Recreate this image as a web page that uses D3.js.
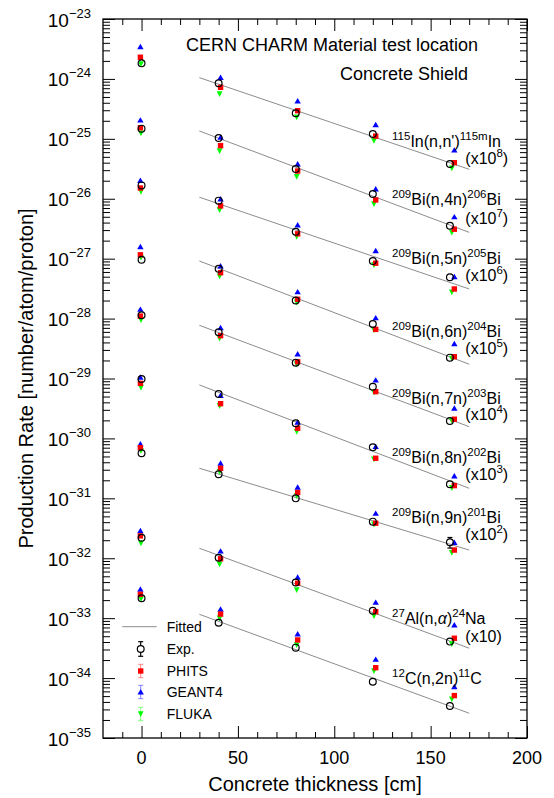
<!DOCTYPE html>
<html>
<head>
<meta charset="utf-8">
<script src="https://cdn.jsdelivr.net/npm/d3@7"></script>
<style>
body { margin: 0; background: #fff; }
text { font-family: "Liberation Sans", Arial, Helvetica, sans-serif; fill: #000; }
</style>
</head>
<body>
<svg id="chart" width="554" height="798"></svg>
<script>
// concrete thickness of each measurement [cm]
var expX = [0, 40, 80, 120, 160];
var phitsX = [-0.6, 41, 81, 121.5, 162.3];
var geantX = [-0.6, 41, 81, 121.5, 162.3];
var flukaX = [-0.3, 40.5, 80.5, 120.6, 161];
var fitX = [30, 170];

// reactions, top to bottom (values already multiplied by the scale factor)
var reactions = ['In115', 'Bi4n', 'Bi5n', 'Bi6n', 'Bi7n', 'Bi8n', 'Bi9n', 'Al27', 'C12'];
var scalePower = ['8', '7', '6', '5', '4', '3', '2', '', null];

var expRate = [
	[1.82e-24, 8.45e-25, 2.67e-25, 1.2e-25, 3.8e-26],
	[1.48e-25, 1.03e-25, 3.14e-26, 1.2e-26, 3.55e-27],
	[1.67e-26, 9.3e-27, 2.8e-27, 9.1e-28, 4.9e-28],
	[9.6e-28, 6.8e-28, 2.0e-28, 8.1e-29, 2.23e-29],
	[1.135e-28, 5.9e-29, 1.84e-29, 7.3e-30, 1.95e-30],
	[9.8e-30, 5.5e-30, 1.79e-30, 7.1e-31, 1.72e-31],
	[5.65e-31, 2.52e-31, 1.0e-31, 4.08e-32, 1.85e-32],
	[2.2e-32, 1.02e-32, 3.92e-33, 1.33e-33, 4.06e-34],
	[2.15e-33, 8.4e-34, 3.22e-34, 8.7e-35, 3.43e-35]
];
// relative errors of the measurements
var expErr = [
	[0.05, 0.05, 0.05, 0.05, 0.05],
	[0.05, 0.05, 0.05, 0.05, 0.05],
	[0.05, 0.05, 0.05, 0.05, 0.05],
	[0.05, 0.05, 0.05, 0.05, 0.05],
	[0.05, 0.05, 0.05, 0.05, 0.05],
	[0.05, 0.05, 0.05, 0.05, 0.05],
	[0.05, 0.05, 0.05, 0.13, 0.2],
	[0.05, 0.05, 0.05, 0.05, 0.05],
	[0.05, 0.05, 0.05, 0.05, 0.05]
];
var phitsRate = [
	[2.3e-24, 7.24e-25, 2.95e-25, 1.11e-25, 4.0e-26],
	[1.53e-25, 7.7e-26, 2.9e-26, 9.55e-27, 3.1e-27],
	[1.51e-26, 7.6e-27, 2.6e-27, 8.4e-28, 3.12e-28],
	[1.16e-27, 5.83e-28, 2.1e-28, 6.6e-29, 2.31e-29],
	[1.1e-28, 5.19e-29, 1.9e-29, 6.03e-30, 2.09e-30],
	[8.3e-30, 3.8e-30, 1.48e-30, 4.67e-31, 1.63e-31],
	[7.0e-31, 3.17e-31, 1.25e-31, 3.84e-32, 1.37e-32],
	[2.36e-32, 9.8e-33, 3.83e-33, 1.28e-33, 4.62e-34],
	[2.5e-33, 1.17e-33, 4.33e-34, 1.49e-34, 5.1e-35]
];
var geantRate = [
	[3.45e-24, 1.06e-24, 4.28e-25, 1.72e-25, 6.5e-26],
	[2.06e-25, 1.06e-25, 3.8e-26, 1.46e-26, 5.0e-27],
	[2.02e-26, 9.9e-27, 3.65e-27, 1.36e-27, 5.0e-28],
	[1.58e-27, 7.55e-28, 2.8e-28, 1.03e-28, 3.8e-29],
	[1.43e-28, 7.05e-29, 2.57e-29, 9.4e-30, 3.19e-30],
	[1.05e-29, 5.2e-30, 1.86e-30, 7.3e-31, 2.36e-31],
	[8.07e-31, 3.85e-31, 1.53e-31, 5.63e-32, 1.83e-32],
	[2.88e-32, 1.32e-32, 4.82e-33, 1.84e-33, 7.7e-34],
	[3.04e-33, 1.41e-33, 5.45e-34, 2.06e-34, 7.2e-35]
];
var flukaRate = [
	[1.78e-24, 5.6e-25, 2.3e-25, 9.3e-26, 3.24e-26],
	[1.24e-25, 6.3e-26, 2.33e-26, 8.2e-27, 2.75e-27],
	[1.32e-26, 6.5e-27, 2.33e-27, 7.85e-28, 2.75e-28],
	[1.05e-27, 5.1e-28, 1.87e-28, 6.45e-29, 2.17e-29],
	[9.5e-29, 4.69e-29, 1.73e-29, 5.9e-30, 1.98e-30],
	[7.1e-30, 3.5e-30, 1.3e-30, 4.5e-31, 1.5e-31],
	[6.24e-31, 2.79e-31, 1.1e-31, 3.69e-32, 1.24e-32],
	[1.78e-32, 7.94e-33, 2.96e-33, 1.09e-33, 3.72e-34],
	[2.09e-33, 1.0e-33, 3.57e-34, 1.32e-34, 4.44e-35]
];
// fitted exponential at x = 30 and x = 170
var fitRate = [
	[1.05e-24, 3.1e-26],
	[1.35e-25, 2.75e-27],
	[1.06e-26, 3.12e-28],
	[9.14e-28, 1.73e-29],
	[7.73e-29, 1.57e-30],
	[7.8e-30, 1.47e-31],
	[3.18e-31, 1.37e-32],
	[1.47e-32, 3.15e-34],
	[1.16e-33, 2.59e-35]
];

// reaction labels: [text, kind] with kind 's' superscript, 'i' italic, '' normal
var reactionLabel = [
	[['115', 's'], ['In(n,n\')', ''], ['115m', 's'], ['In', '']],
	[['209', 's'], ['Bi(n,4n)', ''], ['206', 's'], ['Bi', '']],
	[['209', 's'], ['Bi(n,5n)', ''], ['205', 's'], ['Bi', '']],
	[['209', 's'], ['Bi(n,6n)', ''], ['204', 's'], ['Bi', '']],
	[['209', 's'], ['Bi(n,7n)', ''], ['203', 's'], ['Bi', '']],
	[['209', 's'], ['Bi(n,8n)', ''], ['202', 's'], ['Bi', '']],
	[['209', 's'], ['Bi(n,9n)', ''], ['201', 's'], ['Bi', '']],
	[['27', 's'], ['Al(n,', ''], ['\u03b1', 'i'], [')', ''], ['24', 's'], ['Na', '']],
	[['12', 's'], ['C(n,2n)', ''], ['11', 's'], ['C', '']]
];

var xTicks = [0, 50, 100, 150, 200];
var yExponents = [-35, -34, -33, -32, -31, -30, -29, -28, -27, -26, -25, -24, -23];
var legendNames = ['Fitted', 'Exp.', 'PHITS', 'GEANT4', 'FLUKA'];

// layout
var padL = 103, padR = 527, padT = 19, padB = 738;
var labelBase = [147, 205, 264, 336.5, 403.5, 462.5, 522.5, 624, 683.5];
var scaleBase = [163.5, 223.5, 281, 354, 420, 480, 540, 641.5];

var svg = d3.select('#chart');
var x = d3.scaleLinear().domain([-20, 200]).range([padL, padR]);
var y = d3.scaleLog().domain([1e-35, 1e-23]).range([padB, padT]);

var decades = yExponents.map(function(e) { return Math.pow(10, e); });
var yMinor = [];
decades.slice(0, -1).forEach(function(d) {
	for (var k = 2; k < 10; k++) yMinor.push(d * k);
});
var xMinor = d3.range(-10, 200, 10).filter(function(v) { return v % 50 !== 0; });

//inward ticks on all four sides
function ticks(axis, values, size, transform) {
	svg.append('g').attr('transform', transform)
		.call(axis.tickValues(values).tickSize(size).tickSizeOuter(0).tickFormat(''))
		.call(function(g) {
			g.select('.domain').remove();
			g.selectAll('line').attr('stroke', '#000').attr('stroke-width', 1);
		});
}
ticks(d3.axisLeft(y), decades, -12, 'translate(' + padL + ',0)');
ticks(d3.axisLeft(y), yMinor, -7, 'translate(' + padL + ',0)');
ticks(d3.axisRight(y), decades, -12, 'translate(' + padR + ',0)');
ticks(d3.axisRight(y), yMinor, -7, 'translate(' + padR + ',0)');
ticks(d3.axisBottom(x), xTicks, -12, 'translate(0,' + padB + ')');
ticks(d3.axisBottom(x), xMinor, -6, 'translate(0,' + padB + ')');
ticks(d3.axisTop(x), xTicks, -12, 'translate(0,' + padT + ')');
ticks(d3.axisTop(x), xMinor, -6, 'translate(0,' + padT + ')');

svg.append('rect')
	.attr('x', padL).attr('y', padT)
	.attr('width', padR - padL).attr('height', padB - padT)
	.attr('fill', 'none').attr('stroke', '#000').attr('stroke-width', 1.3);

//tick labels
svg.selectAll('.xlab').data(xTicks).enter().append('text')
	.attr('x', function(d) { return x(d); })
	.attr('y', padB + 26)
	.attr('text-anchor', 'middle')
	.attr('font-size', 18)
	.text(function(d) { return d; });

var ylab = svg.selectAll('.ylab').data(yExponents).enter().append('text')
	.attr('x', 91)
	.attr('y', function(d) { return y(Math.pow(10, d)) + 7.5; })
	.attr('text-anchor', 'end');
ylab.append('tspan').attr('font-size', 19).text('10');
ylab.append('tspan').attr('font-size', 13).attr('dy', -9)
	.text(function(d) { return '\u2212' + Math.abs(d); });

//axis titles
svg.append('text')
	.attr('x', (padL + padR) / 2).attr('y', 790.5)
	.attr('text-anchor', 'middle').attr('font-size', 20)
	.text('Concrete thickness [cm]');
svg.append('text')
	.attr('transform', 'translate(33,' + (padT + padB) / 2 + ') rotate(-90)')
	.attr('text-anchor', 'middle').attr('font-size', 20)
	.text('Production Rate [number/atom/proton]');

svg.append('text').attr('x', 186).attr('y', 50.5).attr('font-size', 18)
	.text('CERN CHARM Material test location');
svg.append('text').attr('x', 340).attr('y', 80).attr('font-size', 18)
	.text('Concrete Shield');

//markers
var triUp = 'M0,-2.9L3.2,2.5L-3.2,2.5Z';
var triDown = 'M-2.9,-2.7L2.9,-2.7L0,3.1Z';
var square = 'M-2.7,-2.7H2.7V2.7H-2.7Z';

var fitLine = d3.line()
	.x(function(d) { return x(d[0]); })
	.y(function(d) { return y(d[1]); });

reactions.forEach(function(r, i) {
	var g = svg.append('g').attr('class', r);

	g.append('path')
		.attr('d', fitLine(fitX.map(function(v, j) { return [v, fitRate[i][j]]; })))
		.attr('stroke', '#8c8c8c').attr('stroke-width', 1).attr('fill', 'none');

	[[geantRate, geantX, triUp, '#0000ff'],
	 [flukaRate, flukaX, triDown, '#00ff00'],
	 [phitsRate, phitsX, square, '#ff0000']].forEach(function(s) {
		g.selectAll(null).data(s[0][i]).enter().append('path')
			.attr('transform', function(d, j) { return 'translate(' + x(s[1][j]) + ',' + y(d) + ')'; })
			.attr('d', s[2]).attr('fill', s[3]);
	});

	//exp error bars, drawn only outside the circle
	var r0 = 3.4;
	expRate[i].forEach(function(v, j) {
		var cx = x(expX[j]), cy = y(v);
		var hi = y(v * (1 + expErr[i][j])), lo = y(v * (1 - expErr[i][j]));
		if (cy - hi > r0 + 1) {
			g.append('line').attr('x1', cx).attr('x2', cx).attr('y1', hi).attr('y2', cy - r0)
				.attr('stroke', '#000').attr('stroke-width', 1.2);
			g.append('line').attr('x1', cx - 2.5).attr('x2', cx + 2.5).attr('y1', hi).attr('y2', hi)
				.attr('stroke', '#000').attr('stroke-width', 1.2);
		}
		if (lo - cy > r0 + 1) {
			g.append('line').attr('x1', cx).attr('x2', cx).attr('y1', cy + r0).attr('y2', lo)
				.attr('stroke', '#000').attr('stroke-width', 1.2);
			g.append('line').attr('x1', cx - 2.5).attr('x2', cx + 2.5).attr('y1', lo).attr('y2', lo)
				.attr('stroke', '#000').attr('stroke-width', 1.2);
		}
	});
	g.selectAll('circle').data(expRate[i]).enter().append('circle')
		.attr('cx', function(d, j) { return x(expX[j]); })
		.attr('cy', function(d) { return y(d); })
		.attr('r', r0)
		.attr('fill', 'none').attr('stroke', '#000').attr('stroke-width', 1.2);

	//reaction label
	var t = g.append('text').attr('x', x(130)).attr('y', labelBase[i]).attr('font-size', 16);
	reactionLabel[i].forEach(function(p, k) {
		var prev = k > 0 ? reactionLabel[i][k - 1][1] : '';
		var ts = t.append('tspan').text(p[0]);
		if (p[1] === 's') ts.attr('font-size', 11.5).attr('dy', prev === 's' ? 0 : -7);
		else ts.attr('dy', prev === 's' ? 7 : 0);
		if (p[1] === 'i') ts.attr('font-style', 'italic');
	});
	if (scalePower[i] !== null) {
		var s = g.append('text').attr('x', x(168)).attr('y', scaleBase[i]).attr('font-size', 16);
		s.append('tspan').text('(x10');
		if (scalePower[i] !== '') {
			s.append('tspan').attr('font-size', 11.5).attr('dy', -7).text(scalePower[i]);
			s.append('tspan').attr('dy', 7).text(')');
		} else {
			s.append('tspan').text(')');
		}
	}
});

//legend
var legY = [626.7, 649, 671, 692, 714];
var leg = svg.append('g');
leg.append('line').attr('x1', 122.3).attr('x2', 156.7).attr('y1', legY[0]).attr('y2', legY[0])
	.attr('stroke', '#8c8c8c').attr('stroke-width', 1);
[['#000', 7.3, 1.2], ['#ff0000', 6.7, 0.8], ['#0000ff', 6.7, 0.8], ['#00ff00', 6.7, 0.8]].forEach(function(e, k) {
	var cy = legY[k + 1], cx = 140.7;
	var bar = leg.append('g').attr('stroke', e[0]).attr('stroke-width', e[2]).attr('opacity', k ? 0.6 : 1);
	bar.append('line').attr('x1', cx).attr('x2', cx).attr('y1', cy - e[1]).attr('y2', cy + e[1]);
	bar.append('line').attr('x1', cx - 2.5).attr('x2', cx + 2.5).attr('y1', cy - e[1]).attr('y2', cy - e[1]);
	bar.append('line').attr('x1', cx - 2.5).attr('x2', cx + 2.5).attr('y1', cy + e[1]).attr('y2', cy + e[1]);
	if (k === 0) {
		leg.append('circle').attr('cx', cx).attr('cy', cy).attr('r', 3.4)
			.attr('fill', '#fff').attr('stroke', '#000').attr('stroke-width', 1.2);
	} else {
		leg.append('path').attr('transform', 'translate(' + cx + ',' + cy + ')')
			.attr('d', [square, triUp, triDown][k - 1]).attr('fill', e[0]);
	}
});
leg.selectAll('text').data(legendNames).enter().append('text')
	.attr('x', 166.7)
	.attr('y', function(d, k) { return legY[k] + 5; })
	.attr('font-size', 14)
	.text(function(d) { return d; });
</script>
</body>
</html>
